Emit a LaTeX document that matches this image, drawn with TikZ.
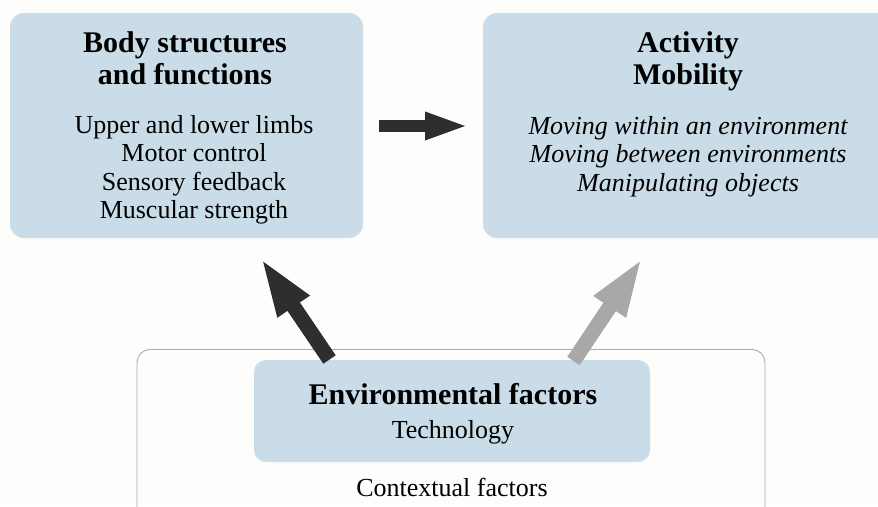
\documentclass[tikz,border=0pt]{standalone}
\usepackage{fontspec}
\setmainfont{Liberation Serif}
\usetikzlibrary{arrows.meta}
\definecolor{boxfill}{HTML}{C9DCE8}
\definecolor{darkarrow}{HTML}{2E2E2E}
\definecolor{grayarrow}{HTML}{A8A8A8}
\definecolor{ctxline}{HTML}{ABABAB}
\definecolor{bgcol}{HTML}{FDFDFB}
\begin{document}
\begin{tikzpicture}[x=1pt,y=-1pt,
  bluebox/.style={fill=boxfill,draw=none,rounded corners=14pt},
  ttl/.style={anchor=base,inner sep=0pt,font=\fontsize{30}{32}\selectfont\bfseries},
  txt/.style={anchor=base,inner sep=0pt,font=\fontsize{26}{28}\selectfont},
  itx/.style={anchor=base,inner sep=0pt,font=\fontsize{26}{28}\selectfont\itshape},
  fatarrow/.style={line width=#1}
]
\useasboundingbox (0,0) rectangle (878,506);
\clip (0,0) rectangle (878,506);
\fill[bgcol] (0,0) rectangle (878,506);

% boxes
\draw[bluebox] (10,13) rectangle (363,238);
\node[inner sep=0pt] (body) at (186.5,125.5) {};
\draw[bluebox] (483,13) rectangle (893,238);
\node[inner sep=0pt] (act) at (688,125.5) {};
\draw[ctxline,line width=0.9pt,rounded corners=13pt] (137,349.5) rectangle (765,540);
\node[inner sep=0pt] (ctx) at (451,440) {};
\draw[bluebox,rounded corners=12pt] (254,360) rectangle (650,462);
\node[inner sep=0pt] (env) at (452,411) {};

% texts box 1
\node[ttl] (b1) at (185,52) {Body structures};
\node[ttl] (b2) at (185,84) {and functions};
\node[txt] (b3) at (194,133) {Upper and lower limbs};
\node[txt] (b4) at (194,161.5) {Motor control};
\node[txt] (b5) at (194,190) {Sensory feedback};
\node[txt] (b6) at (194,218.5) {Muscular strength};

% texts box 2
\node[ttl] (a1) at (688,52) {Activity};
\node[ttl] (a2) at (688,84) {Mobility};
\node[itx] (a3) at (688,134) {Moving within an environment};
\node[itx] (a4) at (688,162.5) {Moving between environments};
\node[itx] (a5) at (688,191) {Manipulating objects};

% env texts
\node[ttl] (e1) at (453,404) {Environmental factors};
\node[txt] (e2) at (453,438) {Technology};
\node[txt] (c1) at (452,496) {Contextual factors};

% arrows
\coordinate (h0) at (379,126);
\coordinate (h1) at (469,126);
\draw[darkarrow,fatarrow=12.5pt,-{Triangle[length=44pt,width=25pt]}] (h0) -- (h1);

\coordinate (d0) at (329.5,359.5);
\coordinate (d1) at (260,257);
\draw[darkarrow,fatarrow=15pt,-{Triangle[length=60pt,width=34pt]}] (d0) -- (d1);

\coordinate (g0) at (573.5,361);
\coordinate (g1) at (643,257);
\draw[grayarrow,fatarrow=15pt,-{Triangle[length=60pt,width=34pt]}] (g0) -- (g1);
\end{tikzpicture}
\end{document}
